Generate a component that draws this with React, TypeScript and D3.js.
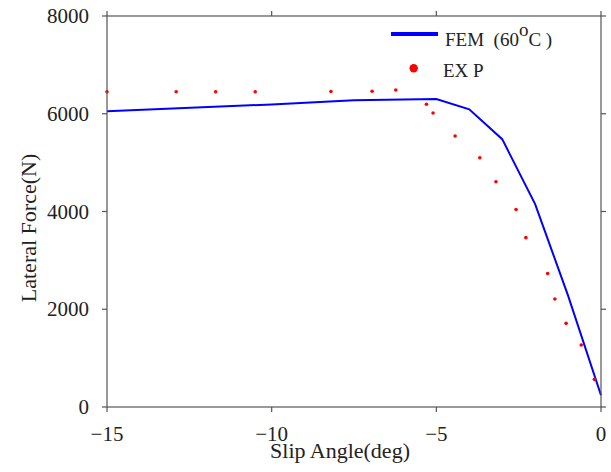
import React from "react";
import * as d3 from "d3";

const femX = [-15, -10, -7.5, -5, -4, -3, -2, -1, 0];
const femY = [6050, 6190, 6275, 6300, 6090, 5480, 4150, 2280, 240];

const expX = [-15, -12.9, -11.7, -10.5, -8.2, -6.95, -6.23, -5.3, -5.1, -4.43, -3.68, -3.19, -2.58, -2.28, -1.62, -1.4, -1.06, -0.6, -0.2];
const expY = [6450, 6450, 6450, 6450, 6455, 6460, 6485, 6195, 6015, 5545, 5100, 4610, 4040, 3465, 2730, 2210, 1712, 1270, 566];

const xTicks = [-15, -10, -5, 0];
const yTicks = [0, 2000, 4000, 6000, 8000];

const W = 611;
const H = 472;
const L = 107, R = 601, T = 16, B = 407;
const txt: React.CSSProperties = { fontFamily: "Liberation Serif, Times New Roman, Times, serif", fontSize: 21 };
const axisColor = "#555";
const textColor = "#222";

export default function App() {
  const x = d3.scaleLinear().domain([-15, 0]).range([L, R]);
  const y = d3.scaleLinear().domain([0, 8000]).range([B, T]);
  const line = d3
    .line<number>()
    .x((d, i) => x(femX[i]))
    .y((d) => y(d));
  const tk = 5;
  return (
    <svg width={W} height={H} style={{ position: "absolute", left: 0, top: 0 }}>
      <rect x={0} y={0} width={W} height={H} fill="#fff" />
      <path d={line(femY) || ""} fill="none" stroke="#0000ff" strokeWidth={2} />
      {expX.map((v, i) => (
        <circle key={i} cx={x(v)} cy={y(expY[i])} r={1.8} fill="#ff0000" />
      ))}
      <rect x={L} y={T} width={R - L} height={B - T} fill="none" stroke={axisColor} strokeWidth={1.2} />
      {xTicks.map((t) => (
        <g key={"x" + t}>
          <line x1={x(t)} x2={x(t)} y1={B} y2={B + tk} stroke={axisColor} strokeWidth={1.2} />
          <line x1={x(t)} x2={x(t)} y1={T} y2={T - tk} stroke={axisColor} strokeWidth={1.2} />
          <text x={x(t)} y={441} textAnchor="middle" style={txt} fill={textColor}>
            {t < 0 ? "\u2212" + Math.abs(t) : String(t)}
          </text>
        </g>
      ))}
      {yTicks.map((t) => (
        <g key={"y" + t}>
          <line x1={L - tk} x2={L} y1={y(t)} y2={y(t)} stroke={axisColor} strokeWidth={1.2} />
          <line x1={R} x2={R + tk} y1={y(t)} y2={y(t)} stroke={axisColor} strokeWidth={1.2} />
          <text x={89} y={y(t) + 7} textAnchor="end" style={txt} fill={textColor}>
            {String(t)}
          </text>
        </g>
      ))}
      <text x={340} y={458} textAnchor="middle" style={{ ...txt, fontSize: 22 }} fill={textColor}>
        Slip Angle(deg)
      </text>
      <text transform="translate(36,228) rotate(-90)" textAnchor="middle" style={{ ...txt, fontSize: 22 }} fill={textColor}>
        Lateral Force(N)
      </text>
      <line x1={391} x2={438} y1={34} y2={34} stroke="#0000ff" strokeWidth={4} />
      <text x={445} y={46} style={{ ...txt, fontSize: 19, whiteSpace: "pre" }} fill={textColor}>
        {"FEM  (60"}
        <tspan dy={-10}>o</tspan>
        <tspan dy={10}>{"C )"}</tspan>
      </text>
      <circle cx={413.7} cy={68.3} r={4.2} fill="#ff0000" />
      <text x={443} y={77} style={{ ...txt, fontSize: 19, whiteSpace: "pre" }} fill={textColor}>
        {"EX P"}
      </text>
    </svg>
  );
}
